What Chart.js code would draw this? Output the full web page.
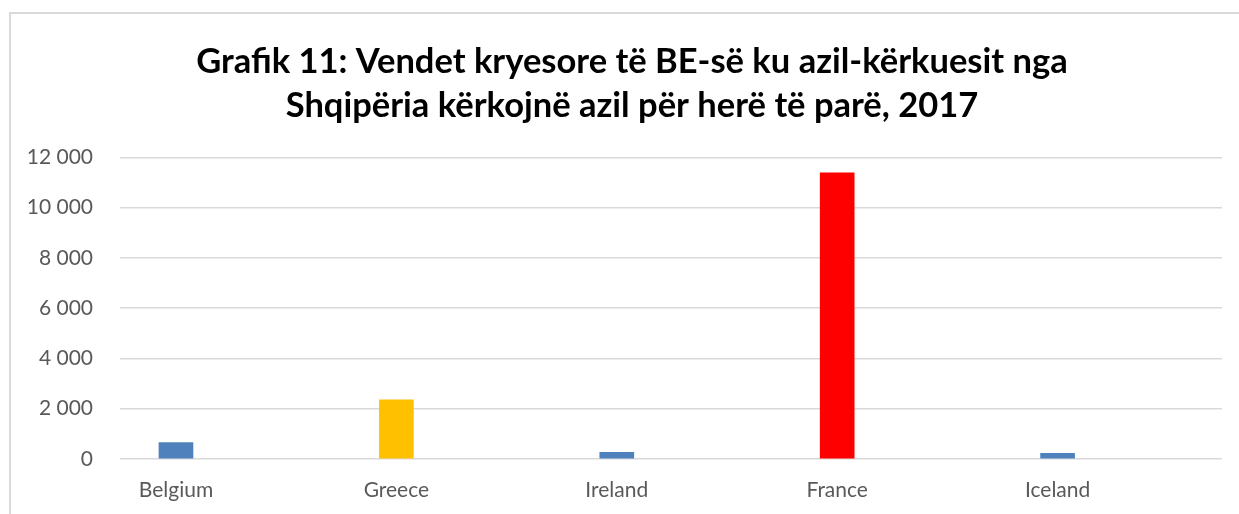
<!DOCTYPE html>
<html>
<head>
<meta charset="utf-8">
<script src="https://cdn.jsdelivr.net/npm/chart.js@4"></script>
<style>
  html, body { margin: 0; padding: 0; background: #fff; }
  #wrap { position: relative; width: 1239px; height: 514px; overflow: hidden; }
  #frame {
    position: absolute; left: 9px; top: 12px; width: 1240px; height: 510px;
    border-top: 2px solid #d9d9d9; border-left: 2px solid #d9d9d9;
    pointer-events: none;
  }
</style>
</head>
<body>
<div id="wrap">
  <!-- canvas runs past the window so the title centres on the chart frame -->
  <canvas id="chart" width="1264" height="514"></canvas>
  <div id="frame"></div>
</div>
<script>
  // Chart data
  const categories = ['Belgium', 'Greece', 'Ireland', 'France', 'Iceland'];
  const applicants = [650, 2350, 265, 11380, 225];
  const yTicks = [0, 2000, 4000, 6000, 8000, 10000, 12000];
  const barColors = ['#4f81bd', '#ffc000', '#4f81bd', '#ff0000', '#4f81bd'];

  const titleLines = [
    'Grafik 11: Vendet kryesore të BE-së ku azil-kërkuesit nga',
    'Shqipëria kërkojnë azil për herë të parë, 2017'
  ];

  // thousands with a space, like the original
  function fmt(v) {
    return String(v).replace(/\B(?=(\d{3})+(?!\d))/g, ' ');
  }

  const ctx = document.getElementById('chart').getContext('2d');

  new Chart(ctx, {
    type: 'bar',
    data: {
      datasets: [{
        data: applicants.map((v, i) => ({ x: i, y: v })),
        backgroundColor: barColors,
        borderWidth: 0,
        barThickness: 34
      }]
    },
    options: {
      responsive: false,
      animation: false,
      layout: { padding: 0 },
      plugins: {
        legend: { display: false },
        tooltip: { enabled: false },
        title: {
          display: true,
          text: titleLines,
          color: '#000',
          font: { family: 'Lato', size: 34.5, weight: 'bold', lineHeight: 1.28 },
          padding: { top: 40, bottom: 29 }
        }
      },
      scales: {
        x: {
          type: 'linear',
          offset: false,
          // categories sit a quarter step right of the plot's left edge
          min: -0.254,
          max: categories.length - 0.254,
          grid: { display: false, drawTicks: false },
          border: { display: false },
          afterBuildTicks: axis => {
            axis.ticks = categories.map((c, i) => ({ value: i }));
          },
          afterFit: axis => { axis.height = 55; },
          ticks: {
            padding: 19,
            color: '#595959',
            font: { family: 'Lato', size: 21 },
            maxRotation: 0,
            autoSkip: false,
            callback: v => categories[v] ?? ''
          }
        },
        y: {
          min: 0,
          max: 12000,
          afterBuildTicks: axis => {
            axis.ticks = yTicks.map(v => ({ value: v }));
          },
          afterFit: axis => { axis.width = 120; },
          grid: { color: '#d9d9d9', lineWidth: 1.5, drawTicks: false },
          border: { display: false },
          ticks: {
            padding: 27,
            color: '#595959',
            font: { family: 'Lato', size: 21 },
            callback: v => fmt(v)
          }
        },
        // empty right-hand spacer, keeps the plot ending at the same place
        spacer: {
          type: 'linear',
          position: 'right',
          min: 0,
          max: 1,
          grid: { display: false, drawTicks: false },
          border: { display: false },
          ticks: { display: false },
          afterFit: axis => { axis.width = 42; }
        }
      }
    }
  });
</script>
</body>
</html>
